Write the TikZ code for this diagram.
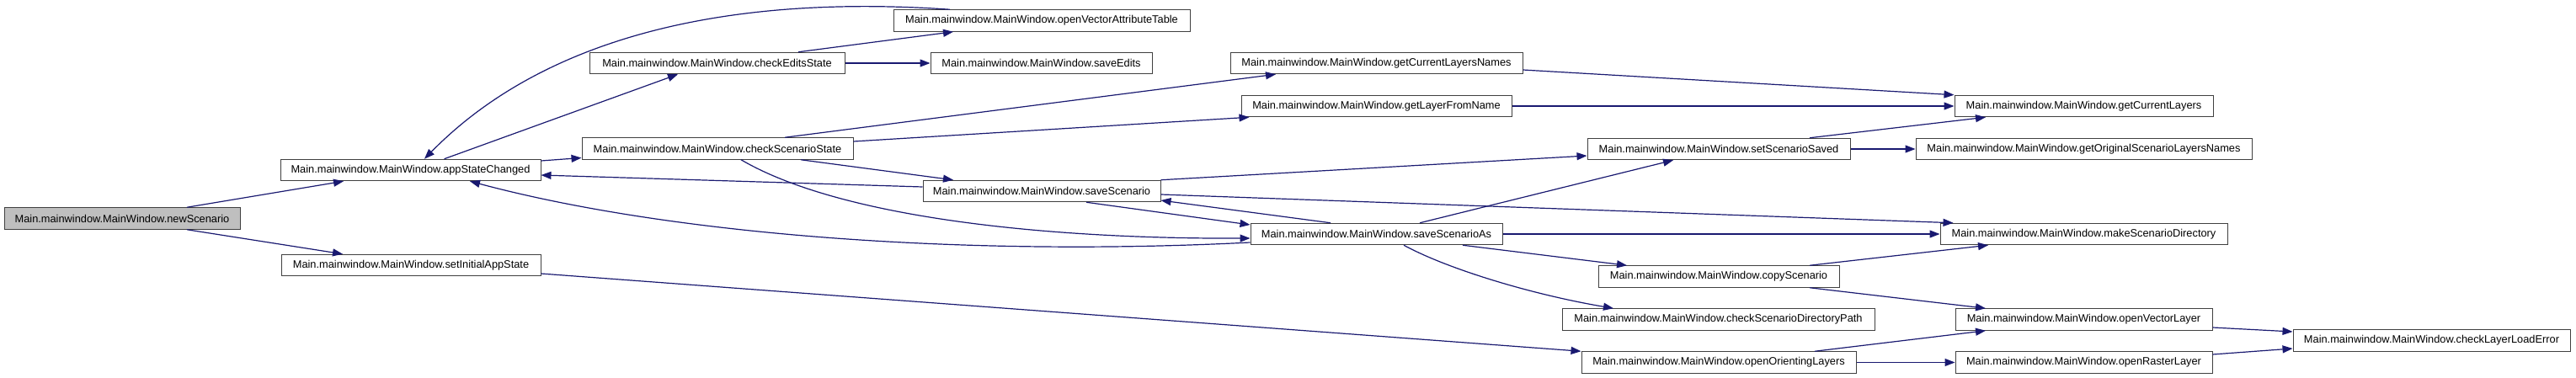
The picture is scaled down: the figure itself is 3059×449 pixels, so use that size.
\documentclass[tikz,border=0pt]{standalone}
\usepackage{fontspec}
\setmainfont{Liberation Sans}
\usepackage{xcolor}
\usepackage{tikz}
\usetikzlibrary{arrows.meta}
\definecolor{callnavy}{RGB}{25,25,112}
\definecolor{callgrey}{RGB}{191,191,191}
\tikzset{
  callbox/.style={
    rectangle,
    draw=black!75,
    line width=1pt,
    fill=white,
    align=center,
    minimum height=25.5pt,
    inner sep=0pt,
    font=\fontsize{12.8}{15}\selectfont
  },
  callarrow/.style={
    -{Triangle[length=12pt,width=9pt]},
    line width=1.2pt,
    draw=callnavy
  }
}

\begin{document}
\begin{tikzpicture}[x=1pt,y=-1pt]
\useasboundingbox (0,0) rectangle (3059,449);

\node[callbox, fill=callgrey, minimum width=280pt] (newscen) at (145,259.5) {Main.mainwindow.MainWindow.newScenario};

\node[callbox, minimum width=309pt] (statechg) at (487.5,202) {Main.mainwindow.MainWindow.appStateChanged};
\node[callbox, minimum width=308pt] (initstate) at (488,315) {Main.mainwindow.MainWindow.setInitialAppState};

\node[callbox, minimum width=303pt] (editsstate) at (851.5,75) {Main.mainwindow.MainWindow.checkEditsState};
\node[callbox, minimum width=322pt] (scenstate) at (852,176.5) {Main.mainwindow.MainWindow.checkScenarioState};

\node[callbox, minimum width=352pt] (attrtable) at (1237,24.5) {Main.mainwindow.MainWindow.openVectorAttributeTable};
\node[callbox, minimum width=263pt] (saveedits) at (1236.5,75) {Main.mainwindow.MainWindow.saveEdits};
\node[callbox, minimum width=282pt] (savescen) at (1237,227) {Main.mainwindow.MainWindow.saveScenario};

\node[callbox, minimum width=347pt] (layernames) at (1634.5,75) {Main.mainwindow.MainWindow.getCurrentLayersNames};
\node[callbox, minimum width=321pt] (fromname) at (1634.5,126) {Main.mainwindow.MainWindow.getLayerFromName};
\node[callbox, minimum width=299pt] (saveas) at (1634.5,278) {Main.mainwindow.MainWindow.saveScenarioAs};

\node[callbox, minimum width=312pt] (scensaved) at (2041,177) {Main.mainwindow.MainWindow.setScenarioSaved};
\node[callbox, minimum width=286pt] (copyscen) at (2041,328.5) {Main.mainwindow.MainWindow.copyScenario};
\node[callbox, minimum width=371pt] (dirpath) at (2040.5,379.5) {Main.mainwindow.MainWindow.checkScenarioDirectoryPath};
\node[callbox, minimum width=326pt] (orienting) at (2041,430.5) {Main.mainwindow.MainWindow.openOrientingLayers};

\node[callbox, minimum width=307pt] (curlayers) at (2474.5,126) {Main.mainwindow.MainWindow.getCurrentLayers};
\node[callbox, minimum width=399pt] (orignames) at (2474.5,177) {Main.mainwindow.MainWindow.getOriginalScenarioLayersNames};
\node[callbox, minimum width=341pt] (makedir) at (2474.5,278) {Main.mainwindow.MainWindow.makeScenarioDirectory};
\node[callbox, minimum width=305pt] (vectorlayer) at (2474.5,379.5) {Main.mainwindow.MainWindow.openVectorLayer};
\node[callbox, minimum width=305pt] (rasterlayer) at (2474.5,430.5) {Main.mainwindow.MainWindow.openRasterLayer};

\node[callbox, minimum width=329pt] (loaderror) at (2887.5,404.5) {Main.mainwindow.MainWindow.checkLayerLoadError};

% newScenario
\draw[callarrow] ([xshift=77pt]newscen.north) -- ([xshift=-79.5pt]statechg.south);
\draw[callarrow] ([xshift=77pt]newscen.south) -- ([xshift=-81pt]initstate.north);

% appStateChanged
\draw[callarrow] ([xshift=40pt]statechg.north) -- ([xshift=-46.5pt]editsstate.south);
\draw[callarrow] ([yshift=11pt]statechg.east) -- ([yshift=-11pt]scenstate.west);
\draw[callarrow] ([xshift=-109pt]attrtable.north) .. controls (850,-8) and (640,50) .. ([xshift=16.5pt]statechg.north);
\draw[callarrow] ([yshift=5pt]savescen.west) -- ([yshift=-6pt]statechg.east);
\draw[callarrow] ([yshift=-10pt]saveas.west) .. controls (1150,305) and (800,280) .. ([xshift=70.5pt]statechg.south);

% checkEditsState
\draw[callarrow] (editsstate.east) -- (saveedits.west);
\draw[callarrow] ([xshift=96.5pt]editsstate.north) -- ([xshift=-105pt]attrtable.south);

% checkScenarioState
\draw[callarrow] ([xshift=80pt]scenstate.north) -- ([xshift=-119.5pt]layernames.south);
\draw[callarrow] ([yshift=8.5pt]scenstate.east) -- ([xshift=10pt]fromname.south west);
\draw[callarrow] ([xshift=99pt]scenstate.south) -- ([xshift=-105pt]savescen.north);
\draw[callarrow] ([xshift=28pt]scenstate.south) .. controls (1000,260) and (1250,284) .. ([yshift=-5pt]saveas.west);

% saveScenario
\draw[callarrow] ([xshift=53pt]savescen.south) -- ([yshift=11pt]saveas.west);
\draw[callarrow] ([xshift=-54.5pt]saveas.north) -- ([yshift=-11pt]savescen.east);
\draw[callarrow] (savescen.north east) -- ([yshift=-8pt]scensaved.west);
\draw[callarrow] ([yshift=-4pt]savescen.east) -- ([xshift=16pt]makedir.north west);

% saveScenarioAs
\draw[callarrow] ([xshift=51.5pt]saveas.north) -- ([xshift=-54pt]scensaved.south);
\draw[callarrow] (saveas.east) -- (makedir.west);
\draw[callarrow] ([xshift=102.5pt]saveas.south) -- ([xshift=-109pt]copyscen.north);
\draw[callarrow] ([xshift=32.5pt]saveas.south) .. controls (1720,320) and (1820,350) .. ([xshift=-124.5pt]dirpath.north);

% layer helpers
\draw[callarrow] ([yshift=-8pt]layernames.east) -- (curlayers.north west);
\draw[callarrow] (fromname.east) -- (curlayers.west);
\draw[callarrow] ([xshift=108pt]scensaved.north) -- ([xshift=-116.5pt]curlayers.south);
\draw[callarrow] (scensaved.east) -- (orignames.west);
\draw[callarrow] ([xshift=108pt]copyscen.north) -- ([xshift=-113.5pt]makedir.south);
\draw[callarrow] ([xshift=108pt]copyscen.south) -- ([xshift=-116.5pt]vectorlayer.north);

% setInitialAppState
\draw[callarrow] ([yshift=-10pt]initstate.east) -- (orienting.north west);
\draw[callarrow] ([xshift=114pt]orienting.north) -- ([xshift=-116.5pt]vectorlayer.south);
\draw[callarrow] (orienting.east) -- (rasterlayer.west);
\draw[callarrow] ([yshift=-9.5pt]vectorlayer.east) -- ([yshift=10.5pt]loaderror.west);
\draw[callarrow] ([yshift=9.5pt]rasterlayer.east) -- ([yshift=-9.5pt]loaderror.west);
\end{tikzpicture}
\end{document}
